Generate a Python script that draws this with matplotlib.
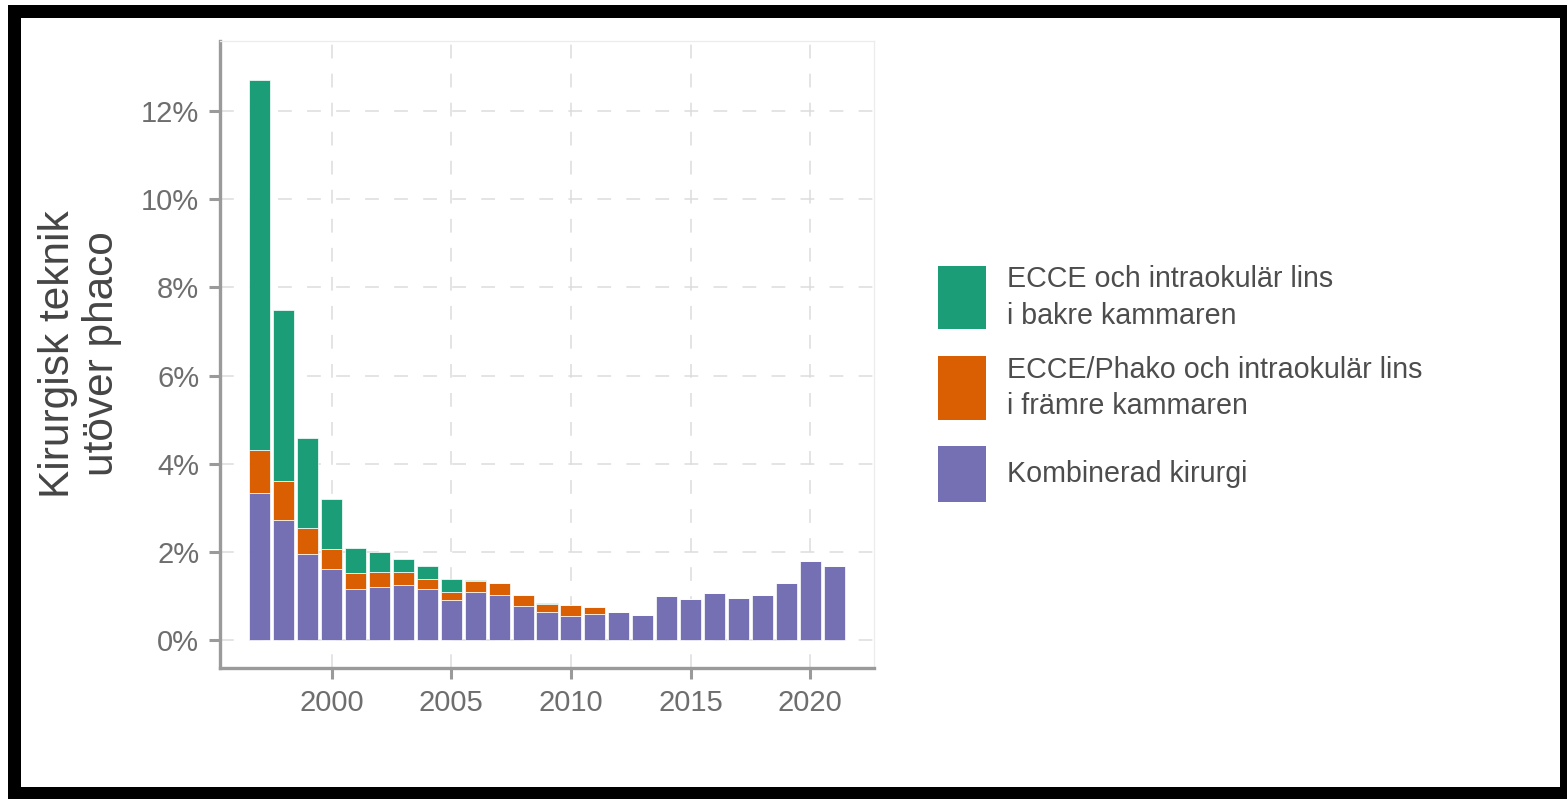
import matplotlib
matplotlib.use("Agg")
import matplotlib.pyplot as plt
from matplotlib.patches import Rectangle
from matplotlib.ticker import FuncFormatter

plt.rcParams['font.family'] = ['Liberation Sans', 'DejaVu Sans']

# Data (percent of operations)
years = [1997, 1998, 1999, 2000, 2001, 2002, 2003, 2004, 2005, 2006, 2007, 2008, 2009,
         2010, 2011, 2012, 2013, 2014, 2015, 2016, 2017, 2018, 2019, 2020, 2021]
kombinerad = [3.34, 2.73, 1.95, 1.61, 1.15, 1.20, 1.25, 1.16, 0.91, 1.10, 1.01, 0.77, 0.64,
              0.55, 0.58, 0.63, 0.56, 0.99, 0.92, 1.06, 0.96, 1.02, 1.30, 1.80, 1.67]
framre = [0.98, 0.88, 0.58, 0.46, 0.36, 0.34, 0.29, 0.23, 0.19, 0.24, 0.29, 0.26, 0.18,
          0.24, 0.18, 0, 0, 0, 0, 0, 0, 0, 0, 0, 0]
bakre = [8.38, 3.88, 2.06, 1.14, 0.57, 0.46, 0.29, 0.29, 0.29, 0.02, 0, 0, 0.01,
         0, 0, 0, 0, 0, 0, 0, 0, 0, 0, 0, 0]

labels = ["ECCE och intraokulär lins\ni bakre kammaren",
          "ECCE/Phako och intraokulär lins\ni främre kammaren",
          "Kombinerad kirurgi"]
colors = ["#1B9E77", "#D95F02", "#7570B3"]

W, H = 1567, 799
fig = plt.figure(figsize=(W / 100, H / 100), dpi=100)

# black frame around the picture
fig.add_artist(Rectangle((8 / W, 0), (W - 8) / W, (H - 5) / H, transform=fig.transFigure,
                         facecolor="black", edgecolor="none", zorder=-10))
fig.add_artist(Rectangle((21 / W, 12 / H), (1560 - 21) / W, (787 - 18) / H,
                         transform=fig.transFigure, facecolor="white", edgecolor="none", zorder=-9))

ax = fig.add_axes([220 / W, 1 - 668 / H, (874 - 220) / W, (668 - 40.7) / H])
ax.set_facecolor("none")

bw = 0.88
ax.bar(years, kombinerad, width=bw, color=colors[2], edgecolor="white", linewidth=0.5)
ax.bar(years, framre, width=bw, bottom=kombinerad, color=colors[1], edgecolor="white", linewidth=0.5)
base2 = [k + f for k, f in zip(kombinerad, framre)]
ax.bar(years, bakre, width=bw, bottom=base2, color=colors[0], edgecolor="white", linewidth=0.5)

ax.set_xlim(1995.33, 2022.67)
ax.set_ylim(-0.635, 13.595)
ax.set_xticks([2000, 2005, 2010, 2015, 2020])
ax.set_yticks([0, 2, 4, 6, 8, 10, 12])
ax.yaxis.set_major_formatter(FuncFormatter(lambda v, p: f"{v:.0f}%"))

ax.set_axisbelow(True)
ax.grid(True, color="#dcdcdc", linewidth=1.1, linestyle=(0, (9, 10)))

for s in ["left", "bottom"]:
    ax.spines[s].set_color("#9a9a9a")
    ax.spines[s].set_linewidth(2.4)
for s in ["top", "right"]:
    ax.spines[s].set_color("#ececec")
    ax.spines[s].set_linewidth(0.9)

ax.tick_params(axis="both", length=8, width=2.2, color="#9a9a9a", labelcolor="#6e6e6e",
               labelsize=21, pad=7)

fig.text(80 / W, 1 - 354 / H, "Kirurgisk teknik\nutöver phaco", rotation=90, ha="center",
         va="center", multialignment="center", fontsize=30.5, color="#454545", linespacing=1.15)

# legend drawn by hand to match the layout
keys = [(266, 329), (356, 420), (446, 502)]
for (top, bot), lab, col in zip(keys, labels, colors):
    fig.add_artist(Rectangle((938 / W, 1 - bot / H), 48 / W, (bot - top) / H,
                             transform=fig.transFigure, facecolor=col, edgecolor="none"))
    fig.text(1007 / W, 1 - (top + bot) / 2 / H, lab, ha="left", va="center", fontsize=20.6,
             color="#4d4d4d", linespacing=1.38)

fig.savefig("out.png", dpi=100)
